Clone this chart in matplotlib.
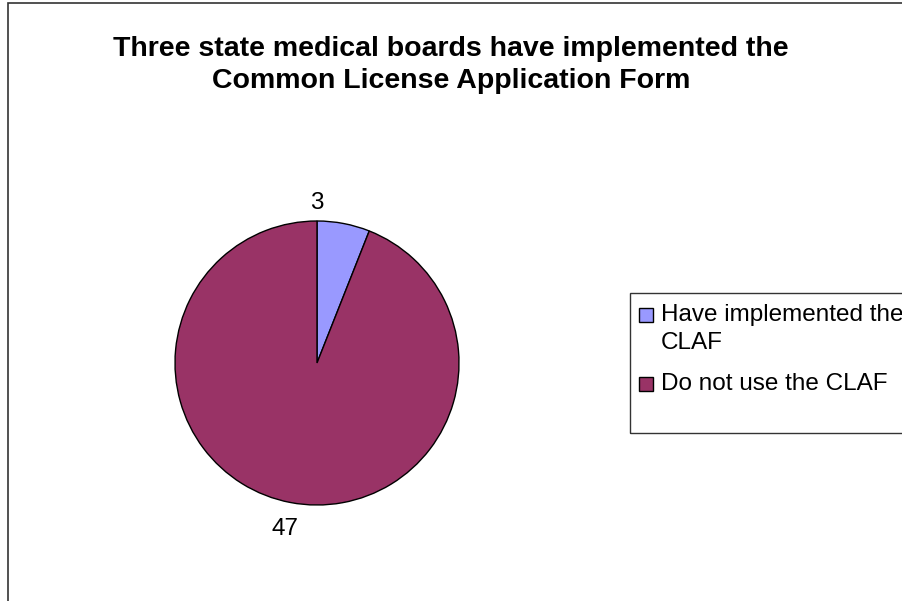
import matplotlib.pyplot as plt
from matplotlib.patches import Rectangle

plt.rcParams["font.family"] = ["Liberation Sans", "DejaVu Sans"]

title = "Three state medical boards have implemented the\nCommon License Application Form"
categories = ["Have implemented the\nCLAF", "Do not use the CLAF"]
values = [3, 47]
colors = ["#9999FF", "#993366"]

W, H = 902, 601
fig = plt.figure(figsize=(W / 100, H / 100), dpi=100)
fig.patch.set_facecolor("white")


def px(x, y):
    # pixel position (from top-left) -> figure fraction
    return x / W, 1 - y / H


# outer chart border (runs off the right and bottom edges)
fig.add_artist(Rectangle((8 / W, -0.05), 1.2, 1 - 3 / H + 0.05,
                         transform=fig.transFigure, fill=False,
                         edgecolor="#333333", linewidth=1.2))

fig.text(*px(451, 88), title, ha="center", va="baseline",
         fontsize=20.5, fontweight="bold", linespacing=1.32)

# pie: centre (317, 363) px, radius 142 px
cx, cy, r = 317, 363, 142
ax = fig.add_axes([(cx - r) / W, (H - cy - r) / H, 2 * r / W, 2 * r / H])
wedges, texts = ax.pie(values, colors=colors, startangle=90, counterclock=False,
                       labels=[str(v) for v in values], labeldistance=1.19,
                       wedgeprops=dict(edgecolor="black", linewidth=1.0),
                       textprops=dict(fontsize=17.5))
texts[0].set_position((0.0, 1.13))
for t in texts:
    t.set_ha("center")
    t.set_va("center")
ax.set_xlim(-1, 1)
ax.set_ylim(-1, 1)
ax.set_aspect("equal")
ax.axis("off")

# legend: frame, keys and labels
fig.add_artist(Rectangle(px(630, 433), 0.5, 140 / H,
                         transform=fig.transFigure, fill=False,
                         edgecolor="#333333", linewidth=1.0))
entry_y = [315, 384]
for label, color, y in zip(categories, colors, entry_y):
    fig.add_artist(Rectangle(px(639, y + 7), 14 / W, 14 / H,
                             transform=fig.transFigure, facecolor=color,
                             edgecolor="black", linewidth=1.0))
    fig.text(*px(661, y - 11), label, ha="left", va="top",
             fontsize=17.5, linespacing=1.37)

fig.savefig("out.png", dpi=100)
